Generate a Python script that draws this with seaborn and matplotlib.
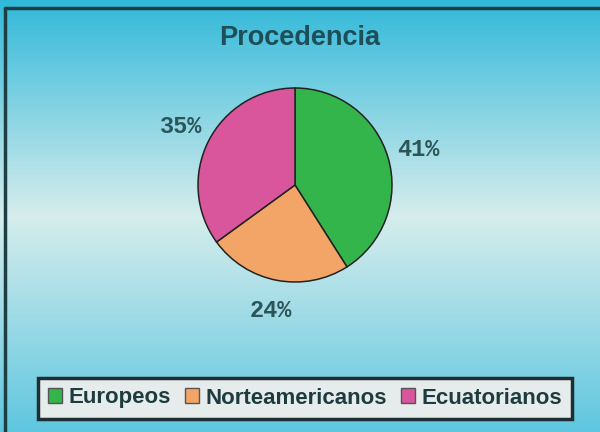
import numpy as np
import matplotlib
matplotlib.use("Agg")
import matplotlib.pyplot as plt
import seaborn as sns
from matplotlib.patches import Patch
from matplotlib.lines import Line2D
from matplotlib.font_manager import FontProperties

categories = ["Europeos", "Norteamericanos", "Ecuatorianos"]
values = [41, 24, 35]
colors = ["#33b54c", "#f2a566", "#d9559c"]
title = "Procedencia"

sns.set_theme(style="white")
plt.rcParams['font.family'] = ['Liberation Sans', 'DejaVu Sans']
plt.rcParams['font.monospace'] = ['Liberation Mono', 'DejaVu Sans Mono']

fig = plt.figure(figsize=(6, 4.32), dpi=100)

# background gradient
bg = fig.add_axes([0, 0, 1, 1])
bg.set_axis_off()
top = np.array([50, 185, 218]) / 255
mid = np.array([214, 237, 236]) / 255
bot = np.array([95, 198, 224]) / 255
ys = np.linspace(0, 1, 300)
grad = np.zeros((300, 1, 3))
for i, y in enumerate(ys):
    if y < 0.5:
        t = y / 0.5
        grad[i, 0] = top * (1 - t) + mid * t
    else:
        t = (y - 0.5) / 0.5
        grad[i, 0] = mid * (1 - t) + bot * t
bg.imshow(grad, aspect='auto', extent=[0, 1, 0, 1], origin='upper')
bg.set_xlim(0, 1)
bg.set_ylim(0, 1)
bg.add_line(Line2D([5/600, 5/600], [0, 1 - 8/432], color="#1d3f44", lw=2.5))
bg.add_line(Line2D([5/600, 1], [1 - 8/432, 1 - 8/432], color="#1d3f44", lw=2.5))

fig.text(0.5, 1 - 38/432, title, ha='center', va='center', fontsize=19.5,
         fontweight='bold', color="#1e4e58")

# pie axes: center (295,185), radius 97 px
r = 97
cx, cy = 295, 185
ax = fig.add_axes([(cx - r) / 600, 1 - (cy + r) / 432, 2 * r / 600, 2 * r / 432])
ax.set_axis_off()
wedges, texts = ax.pie(values, colors=colors, startangle=90, counterclock=False,
                       wedgeprops=dict(edgecolor="#222222", linewidth=1.1),
                       labels=[f"{v}%" for v in values], labeldistance=1.32)
mono = FontProperties(family='monospace', weight='bold', size=17)
for t in texts:
    t.set_ha('center')
    t.set_va('center')
    t.set_fontproperties(mono)
    t.set_color("#2b5558")
ax.set_xlim(-1, 1)
ax.set_ylim(-1, 1)
ax.set_aspect('equal')

# legend
handles = [Patch(facecolor=c, edgecolor="#555555", label=l) for c, l in zip(colors, categories)]
leg = fig.legend(handles=handles, loc='center', bbox_to_anchor=(305/600, 1 - 398/432),
                 ncol=3, frameon=True, handlelength=0.65, handleheight=0.65,
                 handletextpad=0.3, columnspacing=0.6, borderpad=0.45,
                 prop=dict(family='Liberation Sans', weight='bold', size=16))
fr = leg.get_frame()
fr.set_facecolor("#e6eceb")
fr.set_alpha(1)
fr.set_edgecolor("#1d2f33")
fr.set_linewidth(2.5)
fr.set_boxstyle('square', pad=0)
for t in leg.get_texts():
    t.set_color("#1e3c40")

fig.savefig("out.png", dpi=100)
